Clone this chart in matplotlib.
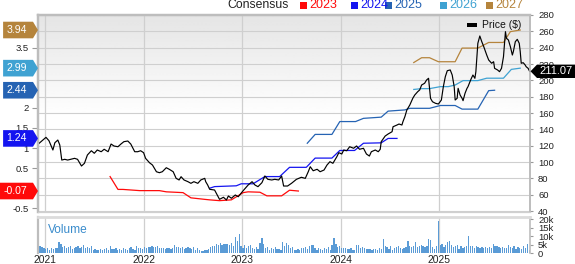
import numpy as np
import matplotlib
matplotlib.use("Agg")
import matplotlib.pyplot as plt
from matplotlib.patches import Polygon, Rectangle
from matplotlib.transforms import IdentityTransform

plt.rcParams['font.family'] = ['Liberation Sans', 'DejaVu Sans']

# ---- data (fractional year, value) ----
price = [
    (2020.94, 122.9), (2021.01, 130.2), (2021.04, 126.1), (2021.08, 114.7), (2021.10, 123.6),
    (2021.13, 126.9), (2021.15, 120.8), (2021.17, 102.4), (2021.20, 103.3), (2021.23, 102.4),
    (2021.26, 103.3), (2021.30, 104.5), (2021.33, 103.3), (2021.37, 95.1), (2021.40, 98.4),
    (2021.43, 108.6), (2021.47, 113.8), (2021.50, 110.7), (2021.53, 114.7), (2021.57, 112.6),
    (2021.60, 115.6), (2021.64, 112.6), (2021.67, 122.0), (2021.70, 119.6), (2021.74, 118.7),
    (2021.77, 122.0), (2021.80, 124.9), (2021.84, 125.7), (2021.87, 122.0), (2021.91, 112.6),
    (2021.94, 112.6), (2021.97, 113.8), (2022.00, 111.4), (2022.02, 104.5), (2022.06, 99.1),
    (2022.09, 96.3), (2022.13, 88.1), (2022.16, 86.9), (2022.19, 88.1), (2022.23, 93.0),
    (2022.26, 91.1), (2022.30, 88.1), (2022.33, 80.0), (2022.36, 78.0), (2022.38, 82.0),
    (2022.41, 78.0), (2022.45, 75.9), (2022.48, 73.9), (2022.51, 75.9), (2022.55, 73.9),
    (2022.58, 78.0), (2022.62, 80.0), (2022.63, 75.9), (2022.65, 71.8), (2022.67, 66.6),
    (2022.72, 65.7), (2022.77, 54.3), (2022.81, 56.8), (2022.84, 53.5), (2022.86, 58.4),
    (2022.89, 55.6), (2022.93, 59.6), (2022.96, 57.5), (2023.01, 64.9), (2023.06, 71.8),
    (2023.10, 75.9), (2023.13, 71.8), (2023.16, 69.8), (2023.20, 74.7), (2023.23, 82.9),
    (2023.26, 78.8), (2023.30, 78.0), (2023.33, 78.8), (2023.37, 78.0), (2023.40, 82.9),
    (2023.42, 70.6), (2023.46, 70.6), (2023.50, 73.9), (2023.55, 78.8), (2023.60, 81.3),
    (2023.64, 80.0), (2023.67, 88.1), (2023.69, 94.2), (2023.72, 89.3), (2023.76, 91.1),
    (2023.79, 88.1), (2023.83, 90.2), (2023.86, 96.3), (2023.89, 100.4), (2023.92, 98.4),
    (2023.96, 106.5), (2023.98, 111.4), (2024.01, 109.8), (2024.03, 114.7), (2024.06, 113.8),
    (2024.09, 118.7), (2024.13, 116.8), (2024.16, 119.6), (2024.19, 115.6), (2024.23, 116.8),
    (2024.26, 109.8), (2024.29, 107.3), (2024.31, 112.6), (2024.35, 114.7), (2024.38, 112.6),
    (2024.40, 115.6), (2024.41, 124.9), (2024.45, 131.8), (2024.48, 134.3), (2024.52, 137.1),
    (2024.53, 143.2), (2024.57, 145.3), (2024.59, 146.5), (2024.62, 145.3), (2024.63, 149.3),
    (2024.65, 155.5), (2024.67, 163.7), (2024.68, 165.8), (2024.70, 169.8), (2024.73, 178.0),
    (2024.75, 182.0), (2024.78, 186.1), (2024.80, 188.2), (2024.82, 194.3), (2024.85, 196.4),
    (2024.87, 200.4), (2024.89, 202.5), (2024.90, 190.2), (2024.91, 178.0), (2024.93, 173.8),
    (2024.96, 171.9), (2024.99, 171.0), (2025.02, 175.9), (2025.04, 192.2), (2025.06, 204.4),
    (2025.08, 211.8), (2025.11, 212.7), (2025.13, 206.5), (2025.15, 192.2), (2025.16, 175.9),
    (2025.18, 178.0), (2025.19, 190.2), (2025.21, 182.0), (2025.23, 178.0), (2025.24, 175.1),
    (2025.26, 184.1), (2025.28, 190.2), (2025.29, 192.2), (2025.32, 201.3), (2025.34, 206.5),
    (2025.36, 202.5), (2025.37, 210.6), (2025.38, 228.9), (2025.39, 245.3), (2025.41, 254.3),
    (2025.43, 247.3), (2025.45, 241.2), (2025.48, 231.0), (2025.50, 224.9), (2025.53, 220.9),
    (2025.55, 222.8), (2025.56, 214.7), (2025.59, 212.7), (2025.61, 210.6), (2025.63, 214.7),
    (2025.65, 228.9), (2025.67, 259.6), (2025.68, 251.5), (2025.70, 249.4), (2025.72, 241.2),
    (2025.74, 231.0), (2025.75, 235.1), (2025.77, 247.3), (2025.79, 250.2), (2025.81, 245.3),
    (2025.82, 235.1), (2025.83, 220.9), (2025.85, 221.6), (2025.87, 218.8), (2025.88, 216.7),
    (2025.90, 214.7), (2025.915, 211.07),
]

eps_2023 = [(2021.66, 0.29), (2021.74, -0.03), (2021.79, -0.03), (2021.96, -0.06), (2022.16, -0.06),
            (2022.23, -0.09), (2022.40, -0.11), (2022.48, -0.24), (2022.63, -0.28), (2022.67, -0.29),
            (2022.77, -0.31), (2022.89, -0.29), (2023.01, -0.11), (2023.06, -0.09), (2023.18, -0.10),
            (2023.25, -0.19), (2023.40, -0.19), (2023.48, -0.05), (2023.57, -0.07)]
eps_2024 = [(2022.67, 0.00), (2022.72, 0.04), (2022.94, 0.06), (2022.99, 0.11), (2023.11, 0.11),
            (2023.23, 0.29), (2023.38, 0.29), (2023.48, 0.52), (2023.65, 0.52), (2023.74, 0.75),
            (2023.91, 0.75), (2023.99, 0.94), (2024.14, 0.94), (2024.23, 1.12), (2024.41, 1.13),
            (2024.48, 1.24), (2024.57, 1.24)]
eps_2025 = [(2023.66, 1.12), (2023.74, 1.34), (2023.91, 1.34), (2023.99, 1.66), (2024.15, 1.66),
            (2024.23, 1.74), (2024.41, 1.77), (2024.48, 1.92), (2024.65, 1.95), (2024.70, 1.99),
            (2024.90, 1.99), (2025.01, 2.06), (2025.16, 2.06), (2025.23, 1.97), (2025.39, 1.97),
            (2025.50, 2.43), (2025.56, 2.44)]
eps_2026 = [(2024.74, 2.46), (2024.82, 2.48), (2024.90, 2.48), (2025.01, 2.53), (2025.09, 2.53),
            (2025.16, 2.57), (2025.24, 2.68), (2025.39, 2.68), (2025.48, 2.74), (2025.65, 2.74),
            (2025.73, 2.96), (2025.82, 2.99)]
eps_2027 = [(2024.74, 3.13), (2024.82, 3.25), (2024.90, 3.25), (2024.99, 3.15), (2025.16, 3.15),
            (2025.23, 3.49), (2025.39, 3.49), (2025.50, 3.63), (2025.65, 3.63), (2025.72, 3.90),
            (2025.82, 3.94)]

# weekly volume in thousands, one row per quarter, first week ~ Dec 2020
vol_start = 2020.95
volume = [
    4.4, 3.5, 3.0, 2.6, 2.8, 2.2, 3.2, 2.5, 2.8, 3.0, 6.8, 5.6, 3.5,
    4.2, 2.8, 3.5, 4.5, 2.5, 3.0, 3.4, 4.0, 2.8, 3.5, 5.0, 3.2, 3.6,
    2.8, 4.0, 2.2, 2.5, 1.8, 2.0, 2.4, 2.0, 2.6, 3.0, 2.2, 4.0, 2.5,
    2.4, 3.0, 2.0, 2.6, 2.2, 3.0, 2.5, 2.0, 2.8, 3.6, 2.4, 2.2, 4.2,
    3.2, 2.8, 2.5, 3.4, 3.2, 3.6, 3.8, 4.0, 3.6, 3.5, 4.0, 3.2, 3.0,
    3.0, 2.6, 3.2, 2.8, 2.5, 3.0, 4.8, 3.6, 3.4, 3.0, 3.8, 2.6, 3.2,
    3.4, 2.8, 2.6, 3.4, 2.2, 3.0, 1.8, 1.6, 1.5, 1.8, 2.0, 2.6, 3.4,
    4.4, 4.0, 5.4, 5.0, 5.8, 4.6, 5.6, 5.2, 5.6, 4.8, 6.0, 4.4, 9.6,
    7.0, 11.2, 4.5, 3.2, 5.0, 2.8, 4.0, 4.6, 3.0, 2.6, 3.4, 2.5, 6.2,
    8.8, 5.4, 2.8, 3.4, 2.2, 3.0, 2.6, 3.8, 2.4, 2.5, 2.0, 6.8, 4.0,
    6.0, 5.0, 3.0, 3.4, 2.0, 2.2, 2.6, 2.0, 3.0, 2.8, 3.4, 2.6, 4.4,
    5.0, 4.6, 3.2, 2.2, 3.0, 2.4, 2.0, 3.0, 2.6, 3.4, 2.2, 5.0, 9.0,
    5.6, 3.4, 4.0, 3.2, 2.8, 3.0, 2.6, 2.4, 2.8, 2.2, 2.0, 5.0, 4.6,
    3.0, 3.4, 3.0, 2.6, 2.4, 2.5, 2.2, 2.6, 2.4, 2.2, 2.8, 2.6, 8.2,
    4.0, 3.4, 2.4, 4.2, 2.0, 3.0, 3.6, 4.4, 3.2, 2.6, 2.8, 3.8, 7.0,
    4.4, 3.8, 4.2, 6.8, 3.8, 4.4, 4.6, 4.0, 3.6, 4.0, 8.6, 7.6, 3.8,
    2.4, 4.0, 19.0, 4.6, 5.4, 3.6, 5.0, 6.6, 7.0, 5.0, 3.6, 4.4, 4.8,
    2.6, 4.0, 3.2, 3.6, 4.0, 10.0, 4.0, 4.4, 3.0, 4.0, 3.4, 3.0, 3.6,
    3.2, 3.6, 2.8, 3.4, 3.0, 5.6, 4.0, 4.2, 3.4, 3.0, 3.6, 2.8, 3.0,
    5.0, 3.4, 3.2, 4.2, 2.6, 3.8, 3.0, 2.4, 4.0, 3.2, 5.6, 2.0, 3.0,
]

years = [2021, 2022, 2023, 2024, 2025]
price_ticks = list(range(40, 281, 20))
eps_ticks = [-0.5, 0.5, 1, 1.5, 2, 3.5]   # the others sit under the value badges
vol_ticks = [0, 5, 10, 15, 20]
vol_labels = ['0', '5k', '10k', '15k', '20k']

series = [
    ('2023', eps_2023, '#ff0a0a'),
    ('2024', eps_2024, '#1414f0'),
    ('2025', eps_2025, '#2563b3'),
    ('2026', eps_2026, '#3fa2d2'),
    ('2027', eps_2027, '#b5843c'),
]

W, H = 575, 264
fig = plt.figure(figsize=(W / 100, H / 100), dpi=100)
fig.patch.set_facecolor('white')

L, R = 38.3, 530.0
top, bot = 15.0, 211.5
vtop, vbot = 217.0, 253.3
xlim = (2020.932, 2025.919)
grid_c = '#cfcfcf'
spine_c = '#bdbdbd'

rect = [L / W, 1 - bot / H, (R - L) / W, (bot - top) / H]
bg = fig.add_axes(rect, zorder=-1)
grad = np.linspace(0, 1, 200).reshape(-1, 1)
grad = np.clip(grad * 1.9, 0, 1)
bg.imshow(grad, cmap='gray', vmin=-8.5, vmax=1, aspect='auto',
          extent=[xlim[0], xlim[1], 39.4, 280], origin='upper', interpolation='bilinear')
for p in price_ticks:
    bg.axhline(p, color=grid_c, lw=0.8)
for y in years:
    bg.axvline(y, color=grid_c, lw=0.9)
bg.set_xlim(*xlim)
bg.set_ylim(39.4, 280)
bg.axis('off')

ax_e = fig.add_axes(rect, zorder=0)
ax_e.patch.set_visible(False)
ax_p = ax_e.twinx()
ax_p.set_zorder(1)
ax_p.patch.set_visible(False)

for name, pts, col in series:
    t, v = zip(*pts)
    ax_e.plot(t, v, color=col, lw=0.9)
pt, pv = zip(*price)
ax_p.plot(pt, pv, color='black', lw=0.85)

ax_e.set_xlim(*xlim)
ax_e.set_ylim(-0.580, 4.314)
ax_p.set_ylim(39.4, 280)

ax_e.set_yticks(eps_ticks)
ax_e.set_yticklabels([f'{v:g}' for v in eps_ticks])
ax_e.tick_params(axis='y', direction='out', length=4.3, width=0.8, color='#9a9a9a',
                 pad=2.6, labelsize=6.8, labelcolor='#222222')
ax_e.set_xticks([])
ax_p.set_yticks(price_ticks)
ax_p.tick_params(axis='y', direction='out', length=2.2, width=0.8, color='#9a9a9a',
                 pad=3.6, labelsize=6.8, labelcolor='#222222')
for a in (ax_e, ax_p):
    for s in a.spines.values():
        s.set_color(spine_c)
    a.spines['left'].set_linewidth(1.6)
    a.spines['right'].set_linewidth(1.2)
    a.spines['top'].set_linewidth(1.6)
    a.spines['bottom'].set_linewidth(0.8)
    a.spines['bottom'].set_color('#d0d0d0')

# volume panel
ax_v = fig.add_axes([L / W, 1 - vbot / H, (R - L) / W, (vbot - vtop) / H])
vx = [vol_start + i / 52 for i in range(len(volume))]
ax_v.bar(vx, volume, width=0.013, color='#5a9bd6', edgecolor='none')
for y in years:
    ax_v.axvline(y, color=grid_c, lw=0.9, zorder=0)
ax_v.set_xlim(*xlim)
ax_v.set_ylim(0, 21.17)
ax_v.yaxis.tick_right()
ax_v.set_yticks(vol_ticks)
ax_v.set_yticklabels(vol_labels)
ax_v.tick_params(axis='y', direction='out', length=2.2, width=0.8, color='#9a9a9a',
                 pad=3.6, labelsize=6.8, labelcolor='#222222')
ax_v.set_xticks(years)
ax_v.set_xticklabels([str(y) for y in years])
ax_v.tick_params(axis='x', length=0, pad=1.4, labelsize=7.4, labelcolor='#222222')
for s in ax_v.spines.values():
    s.set_color(spine_c)
ax_v.spines['top'].set_color('#dcdcdc')
ax_v.spines['top'].set_linewidth(2.0)
ax_v.spines['bottom'].set_visible(False)
ax_v.spines['left'].set_linewidth(1.6)
ax_v.spines['right'].set_linewidth(1.2)
ax_v.text(0.02, 0.65, 'Volume', transform=ax_v.transAxes, color='#3a8ccc',
          fontsize=8.6, va='center', ha='left')

ident = IdentityTransform()
renderer = fig.canvas.get_renderer()

# left badges: latest consensus value of each year
for name, pts, col in series:
    v = pts[-1][1]
    yd = ax_e.transData.transform((0, v))[1]
    txt = fig.text(27.0, yd, f'{v:.2f}', transform=ident, color='white',
                   fontsize=7.6, ha='right', va='center', zorder=11)
    bb = txt.get_window_extent(renderer)
    x0 = bb.x0 - 3.4
    h = 8.3
    fig.add_artist(Polygon([(x0, yd - h), (33.0, yd - h), (38.0, yd), (33.0, yd + h), (x0, yd + h)],
                           closed=True, transform=ident, facecolor=col, edgecolor='none', zorder=10))

# right price badge
last = price[-1][1]
yd = ax_p.transData.transform((0, last))[1]
h = 6.7
fig.add_artist(Polygon([(530.5, yd), (537.0, yd + h), (W, yd + h), (W, yd - h), (537.0, yd - h)],
                       closed=True, transform=ident, facecolor='black', edgecolor='none', zorder=10))
fig.text(539.0, yd, f'{last:.2f}', transform=ident, color='white', fontsize=8.0,
         ha='left', va='center', zorder=11)

# price legend inside plot
fig.add_artist(Rectangle((467.3, H - 26.7), 9.5, 4.0, transform=ident, facecolor='black',
                         edgecolor='none', zorder=10))
fig.text(481.5, H - 25.0, 'Price ($)', transform=ident, fontsize=7.5, color='#111111',
         ha='left', va='center', zorder=11)

# top legend
fig.text(227.5, H - 5.2, 'Consensus', transform=ident, fontsize=8.8, color='#222222',
         ha='left', va='center')
leg_x = {'2023': 300.0, '2024': 351.0, '2025': 385.0, '2026': 440.0, '2027': 485.5}
for name, pts, col in series:
    x = leg_x[name]
    fig.add_artist(Rectangle((x, H - 8.8), 7.2, 7.2, transform=ident, facecolor=col,
                             edgecolor='none'))
    fig.text(x + 9.5, H - 5.2, name, transform=ident, fontsize=9.0, color=col,
             ha='left', va='center')

fig.savefig('out.png', dpi=100, facecolor='white')
plt.close(fig)
